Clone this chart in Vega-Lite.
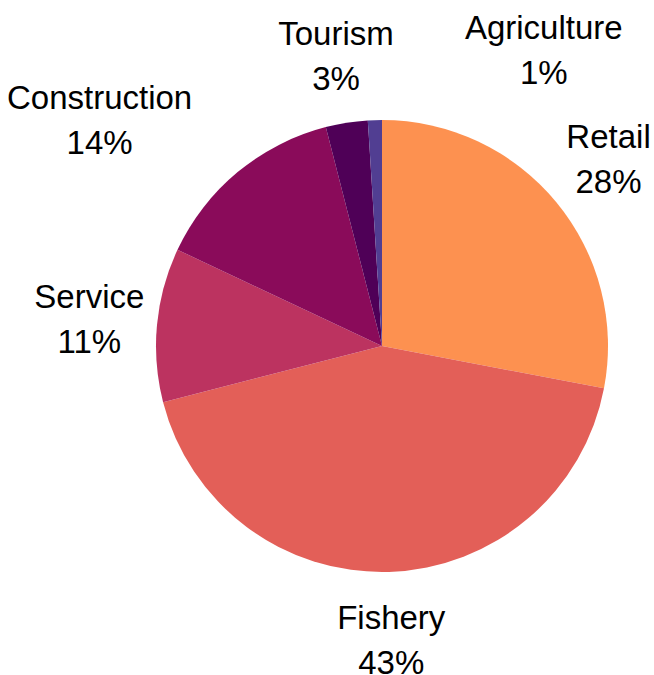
{
  "$schema": "https://vega.github.io/schema/vega-lite/v6.json",
  "width": 544,
  "height": 656,
  "autosize": {"type": "none"},
  "padding": {"left": 110, "top": 18, "right": 0, "bottom": 0},
  "background": "white",
  "data": {
    "values": [
      {"sector": "Retail", "share": 28, "rank": 1, "label": ["Retail", "28%"]},
      {"sector": "Fishery", "share": 43, "rank": 2, "label": ["Fishery", "43%"]},
      {"sector": "Service", "share": 11, "rank": 3, "label": ["Service", "11%"]},
      {"sector": "Construction", "share": 14, "rank": 4, "label": ["Construction", "14%"]},
      {"sector": "Tourism", "share": 3, "rank": 5, "label": ["Tourism", "3%"]},
      {"sector": "Agriculture", "share": 1, "rank": 6, "label": ["Agriculture", "1%"]}
    ]
  },
  "encoding": {
    "theta": {"field": "share", "type": "quantitative", "stack": true},
    "order": {"field": "rank", "type": "quantitative", "sort": "ascending"}
  },
  "layer": [
    {
      "mark": {"type": "arc", "outerRadius": 226},
      "encoding": {
        "color": {
          "field": "sector",
          "type": "nominal",
          "scale": {
            "domain": ["Retail", "Fishery", "Service", "Construction", "Tourism", "Agriculture"],
            "range": ["#fd9150", "#e35f58", "#bc3360", "#8a0b5a", "#4f0057", "#513e92"]
          },
          "legend": null
        }
      }
    },
    {
      "mark": {"type": "text", "radius": 294, "dy": -20.5, "font": "Liberation Sans", "fontSize": 33, "lineHeight": 45, "align": "center", "baseline": "middle", "color": "#000000"},
      "encoding": {
        "text": {
          "condition": {"test": "datum.sector !== 'Construction' && datum.sector !== 'Agriculture'", "field": "label"},
          "value": ""
        }
      }
    },
    {
      "mark": {"type": "text", "radius": 294, "dx": -95, "dy": -20.5, "font": "Liberation Sans", "fontSize": 33, "lineHeight": 45, "align": "center", "baseline": "middle", "color": "#000000"},
      "encoding": {
        "text": {
          "condition": {"test": "datum.sector === 'Construction'", "field": "label"},
          "value": ""
        }
      }
    },
    {
      "mark": {"type": "text", "radius": 294, "dx": 171, "dy": -23.5, "font": "Liberation Sans", "fontSize": 33, "lineHeight": 45, "align": "center", "baseline": "middle", "color": "#000000"},
      "encoding": {
        "text": {
          "condition": {"test": "datum.sector === 'Agriculture'", "field": "label"},
          "value": ""
        }
      }
    }
  ]
}
